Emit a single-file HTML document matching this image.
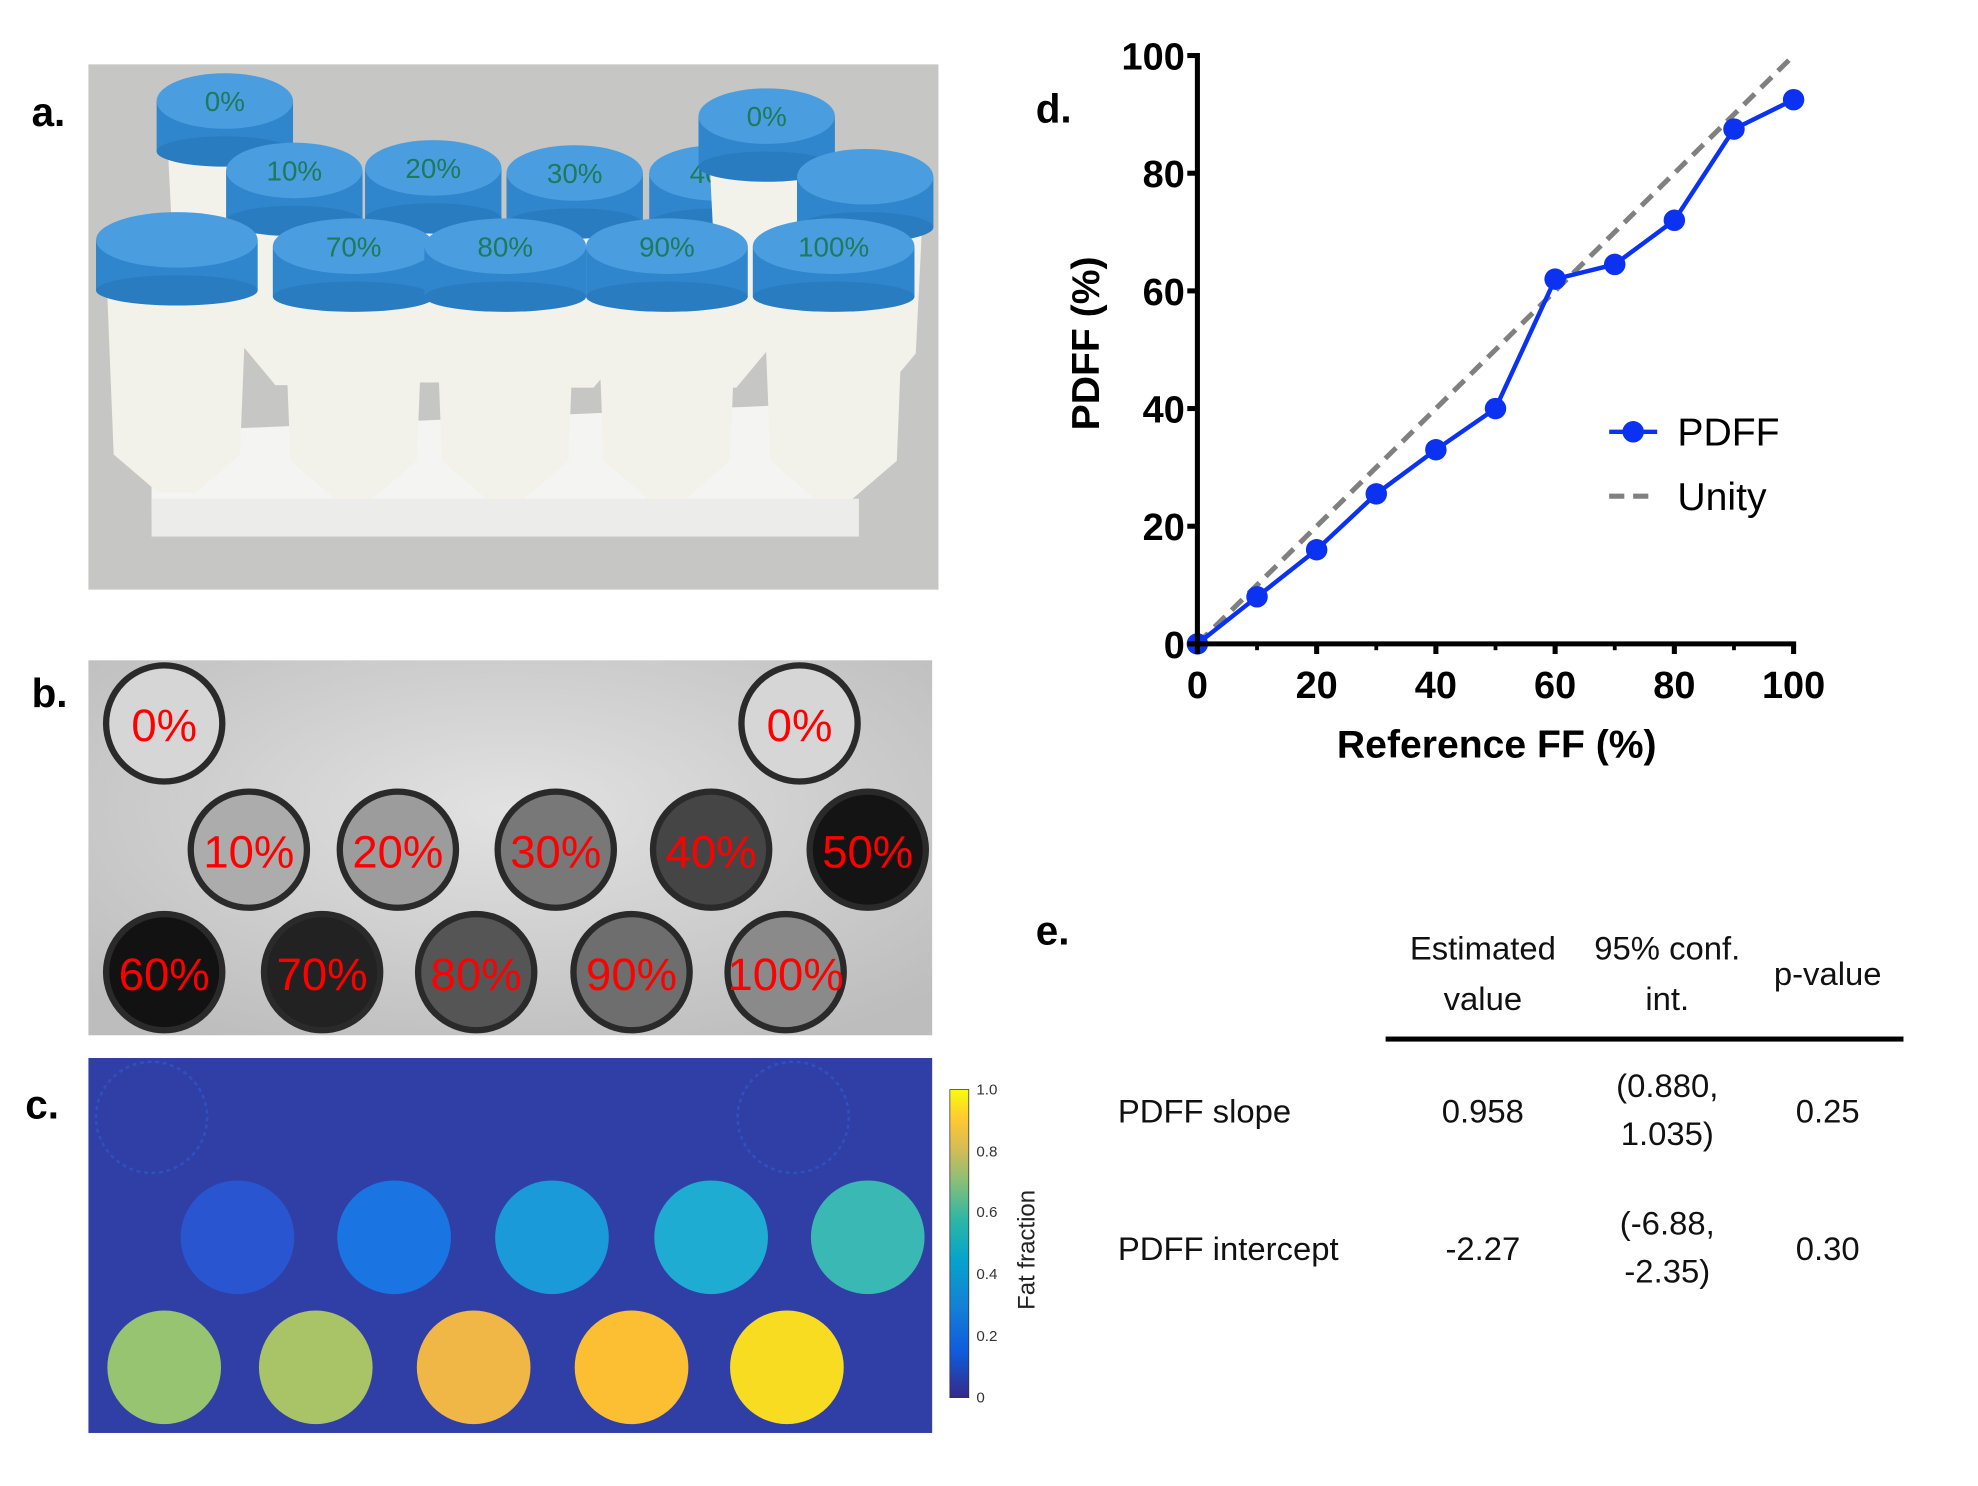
<!DOCTYPE html>
<html><head><meta charset="utf-8"><style>
html,body{margin:0;padding:0;background:#fff;width:1978px;height:1486px;overflow:hidden}
svg{display:block}
.b{font-family:"Liberation Sans",sans-serif;font-weight:bold}
.n{font-family:"Liberation Sans",sans-serif}
</style></head><body>
<svg id="fig" width="1978" height="1486" viewBox="0 0 1566 1177" preserveAspectRatio="none" xmlns="http://www.w3.org/2000/svg">
<defs>
<linearGradient id="parula" x1="0" y1="1" x2="0" y2="0">
<stop offset="0" stop-color="#352a87"/><stop offset="0.15" stop-color="#0f5cdd"/><stop offset="0.3" stop-color="#1481d6"/><stop offset="0.45" stop-color="#06a4ca"/><stop offset="0.58" stop-color="#2eb7a4"/><stop offset="0.7" stop-color="#87bf77"/><stop offset="0.8" stop-color="#d1bb59"/><stop offset="0.9" stop-color="#fec832"/><stop offset="1" stop-color="#f9fb0e"/>
</linearGradient>
<radialGradient id="mribg" cx="0.5" cy="0.4" r="0.7"><stop offset="0" stop-color="#e2e2e2"/><stop offset="1" stop-color="#bdbdbd"/></radialGradient>
</defs>

<text class="b" x="25" y="100" font-size="32">a.</text>
<text class="b" x="25" y="560" font-size="32">b.</text>
<text class="b" x="20" y="886" font-size="32">c.</text>
<text class="b" x="820" y="97" font-size="32">d.</text>
<text class="b" x="820" y="748" font-size="32">e.</text>

<g>
<rect x="70" y="51" width="673" height="416" fill="#c6c6c4"/>
<polygon points="120,365 170,340 690,318 690,352 670,408 120,410" fill="#f4f4f2"/>
<rect x="120" y="395" width="560" height="30" fill="#ececea"/>
<g id="tubes"></g>
</g>

<g>
<rect x="70" y="523" width="668" height="297" fill="url(#mribg)"/>
<g id="mri"></g>
</g>

<g>
<rect x="70" y="838" width="668" height="297" fill="#2f3fa6"/>
<g id="ffmap"></g>
</g>
<g>
<rect x="752" y="863" width="15" height="244" fill="url(#parula)" stroke="#333" stroke-width="0.6"/>
<g class="n" font-size="12" fill="#333">
<text x="773" y="867">1.0</text><text x="773" y="916">0.8</text><text x="773" y="964">0.6</text><text x="773" y="1013">0.4</text><text x="773" y="1062">0.2</text><text x="773" y="1111">0</text>
</g>
<text class="n" font-size="19" fill="#222" transform="translate(819,990) rotate(-90)" text-anchor="middle">Fat fraction</text>
</g>

<g id="chart"></g>

<g class="n" font-size="26" fill="#111">
<text x="1174" y="760" text-anchor="middle">Estimated</text>
<text x="1174" y="800" text-anchor="middle">value</text>
<text x="1320" y="760" text-anchor="middle">95% conf.</text>
<text x="1320" y="800" text-anchor="middle">int.</text>
<text x="1447" y="780" text-anchor="middle">p-value</text>
<rect x="1097" y="821" width="410" height="4" fill="#000"/>
<text x="885" y="889">PDFF slope</text>
<text x="1174" y="889" text-anchor="middle">0.958</text>
<text x="1320" y="869" text-anchor="middle">(0.880,</text>
<text x="1320" y="907" text-anchor="middle">1.035)</text>
<text x="1447" y="889" text-anchor="middle">0.25</text>
<text x="885" y="998">PDFF intercept</text>
<text x="1174" y="998" text-anchor="middle">-2.27</text>
<text x="1320" y="978" text-anchor="middle">(-6.88,</text>
<text x="1320" y="1016" text-anchor="middle">-2.35)</text>
<text x="1447" y="998" text-anchor="middle">0.30</text>
</g>
</svg>
<script>
const categories = [0,10,20,30,40,50,60,70,80,90,100];
const pdffValues = [0,8,16,25.5,33,40,62,64.5,72,87.5,92.5];
const unityValues = [0,100];
const unityX = [0,100];
const xTickLabels = ["0","20","40","60","80","100"];
const yTickLabels = ["0","20","40","60","80","100"];

const NS="http://www.w3.org/2000/svg";
function mk(tag,attrs,parent){const e=document.createElementNS(NS,tag);for(const k in attrs)e.setAttribute(k,attrs[k]);parent.appendChild(e);return e;}

const X0=948,X1=1420,Y0=510,Y1=44;
function sx(v){return X0+(X1-X0)*v/100;}
function sy(v){return Y0-(Y0-Y1)*v/100;}
const chart=document.getElementById('chart');

const unity=mk('line',{x1:sx(unityX[0]),y1:sy(unityValues[0]),x2:sx(unityX[1]),y2:sy(unityValues[1]),stroke:'#808080','stroke-width':4,'stroke-dasharray':'12,7'},chart);



const pts=categories.map((c,i)=>sx(c)+','+sy(pdffValues[i])).join(' ');
const line=mk('polyline',{points:pts,fill:'none',stroke:'#0a32f0','stroke-width':3.5},chart);


categories.forEach((c,i)=>{
  const p=mk('circle',{cx:sx(c),cy:sy(pdffValues[i]),r:8.5,fill:'#0a32f0'},chart);
  
  
});

const ya=mk('line',{x1:X0,y1:Y1-2,x2:X0,y2:Y0+2,stroke:'#000','stroke-width':4},chart);


const xa=mk('line',{x1:X0-2,y1:Y0,x2:X1+2,y2:Y0,stroke:'#000','stroke-width':4},chart);



yTickLabels.forEach(l=>{
  const v=parseFloat(l);
  mk('line',{x1:X0-8,y1:sy(v),x2:X0,y2:sy(v),stroke:'#000','stroke-width':4},chart);
  const t=mk('text',{x:X0-10,y:sy(v)+11,'text-anchor':'end','font-size':30,class:'b'},chart);
  t.textContent=l;
  
  
});
xTickLabels.forEach(l=>{
  const v=parseFloat(l);
  mk('line',{x1:sx(v),y1:Y0,x2:sx(v),y2:Y0+8,stroke:'#000','stroke-width':4},chart);
  const t=mk('text',{x:sx(v),y:553,'text-anchor':'middle','font-size':30,class:'b'},chart);
  t.textContent=l;
  
  
});
[10,30,50,70,90].forEach(v=>mk('line',{x1:sx(v),y1:Y0,x2:sx(v),y2:Y0+5,stroke:'#000','stroke-width':3},chart));

const xt=mk('text',{x:1185,y:600,'text-anchor':'middle','font-size':31,class:'b'},chart);
xt.textContent='Reference FF (%)';


const yt=mk('text',{transform:'translate(870,272) rotate(-90)','text-anchor':'middle','font-size':31,class:'b'},chart);
yt.textContent='PDFF (%)';



const lg=mk('g',{},chart);


mk('line',{x1:1274,y1:342,x2:1312,y2:342,stroke:'#0a32f0','stroke-width':3.5},lg);
mk('circle',{cx:1293,cy:342,r:8.5,fill:'#0a32f0'},lg);
const l1=mk('text',{x:1328,y:353,'font-size':31,class:'n'},lg);l1.textContent='PDFF';


mk('line',{x1:1274,y1:393,x2:1312,y2:393,stroke:'#808080','stroke-width':4,'stroke-dasharray':'12,7'},lg);
const l2=mk('text',{x:1328,y:404,'font-size':31,class:'n'},lg);l2.textContent='Unity';



const tubes=document.getElementById('tubes');
const back=[[178,80,'0%'],[233,135,'10%'],[343,133,'20%'],[455,137,'30%'],[568,137,'40%'],[607,92,'0%'],[685,140,'']];
const front=[[140,190,''],[280,195,'70%'],[400,195,'80%'],[528,195,'90%'],[660,195,'100%']];
function tube(cx,cy,lab,r,body){
  if(body) mk('polygon',{points:(cx-r+8)+','+(cy+20)+' '+(cx+r-8)+','+(cy+20)+' '+(cx+r-14)+','+(cy+20+body)+' '+(cx+15)+','+(cy+body+50)+' '+(cx-15)+','+(cy+body+50)+' '+(cx-r+14)+','+(cy+20+body),fill:'#f2f1ea'},tubes);
  mk('rect',{x:cx-r,y:cy,width:2*r,height:40,fill:'#2f86cc'},tubes);
  mk('ellipse',{cx:cx,cy:cy+40,rx:r,ry:12,fill:'#2a7cc0'},tubes);
  mk('ellipse',{cx:cx,cy:cy,rx:r,ry:22,fill:'#4a9ee0'},tubes);
  if(lab){const t=mk('text',{x:cx,y:cy+8,'text-anchor':'middle','font-size':22,fill:'#1d7a5a',class:'n'},tubes);t.textContent=lab;}
}
back.forEach(b=>tube(b[0],b[1],b[2],54,120));
front.forEach(f=>tube(f[0],f[1],f[2],64,150));

const mri=document.getElementById('mri');
const mriCircles=[[130,573,'#d6d6d6','0%'],[633,573,'#d6d6d6','0%'],[197,673,'#acacac','10%'],[315,673,'#9c9c9c','20%'],[440,673,'#787878','30%'],[563,673,'#454545','40%'],[687,673,'#141414','50%'],[130,770,'#121212','60%'],[255,770,'#222','70%'],[377,770,'#555','80%'],[500,770,'#6e6e6e','90%'],[622,770,'#8a8a8a','100%']];
mriCircles.forEach(c=>{
  mk('circle',{cx:c[0],cy:c[1],r:46,fill:c[2],stroke:'#2a2a2a','stroke-width':5},mri);
  const t=mk('text',{x:c[0],y:c[1]+14,'text-anchor':'middle','font-size':36,fill:'#f00',class:'n'},mri);t.textContent=c[3];
});

const ff=document.getElementById('ffmap');
const ffCircles=[[120,885,'none'],[628,885,'none'],[188,980,'#2a55d0'],[312,980,'#1a74e2'],[437,980,'#1a9ad8'],[563,980,'#1eacd2'],[687,980,'#3ab8b4'],[130,1083,'#96c470'],[250,1083,'#a8c466'],[375,1083,'#f0b646'],[500,1083,'#fcbf34'],[623,1083,'#f8dc22']];
ffCircles.forEach(c=>{
  if(c[2]==='none') mk('circle',{cx:c[0],cy:c[1],r:44,fill:'none',stroke:'#3050c0','stroke-width':2,'stroke-dasharray':'3,3'},ff);
  else mk('circle',{cx:c[0],cy:c[1],r:45,fill:c[2]},ff);
});
</script>
</body></html>
